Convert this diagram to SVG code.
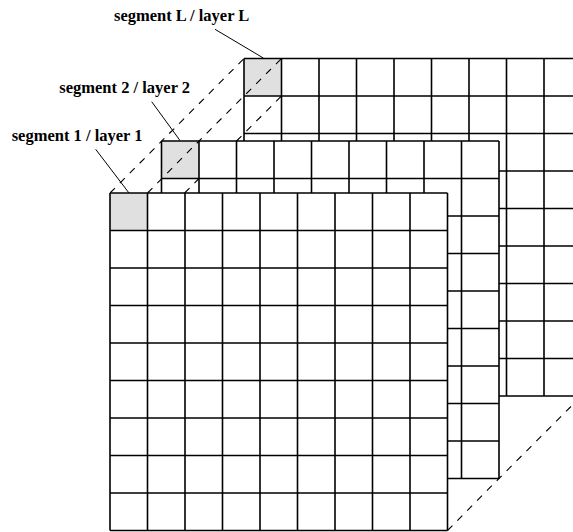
<svg xmlns="http://www.w3.org/2000/svg" xmlns:xlink="http://www.w3.org/1999/xlink" width="573" height="532" viewBox="0 0 573 532">
  <style>
    .grid-bg { fill: #ffffff; }
    .cell-hi { fill: #e0e0e0; }
    .grid-line { fill: none; stroke: #000000; stroke-width: 1.6; }
    .dash { fill: none; stroke: #000000; stroke-width: 1.1; stroke-dasharray: 7 7; }
    .leader { fill: none; stroke: #000000; stroke-width: 1; }
    .label { font-family: "Liberation Serif", "Times New Roman", serif; font-weight: bold; font-size: 16.5px; fill: #000000; }
  </style>
  <defs>
    <g id="grid9">
      <rect class="grid-bg" x="0" y="0" width="337.5" height="337.5"/>
      <rect class="cell-hi" x="0" y="0" width="37.5" height="37.5"/>
      <path class="grid-line" d="M0 0V337.5M37.5 0V337.5M75 0V337.5M112.5 0V337.5M150 0V337.5M187.5 0V337.5M225 0V337.5M262.5 0V337.5M300 0V337.5M337.5 0V337.5M0 0H337.5M0 37.5H337.5M0 75H337.5M0 112.5H337.5M0 150H337.5M0 187.5H337.5M0 225H337.5M0 262.5H337.5M0 300H337.5M0 337.5H337.5"/>
    </g>
  </defs>

  <g id="layer-L">
    <use xlink:href="#grid9" href="#grid9" transform="translate(244 58.5)"/>
  </g>
  <g id="layer-2">
    <use xlink:href="#grid9" href="#grid9" transform="translate(161.5 141)"/>
  </g>
  <g id="layer-1">
    <use xlink:href="#grid9" href="#grid9" transform="translate(110 193)"/>
  </g>

  <g id="connectors">
    <line class="dash" x1="110" y1="193" x2="244" y2="58.5"/>
    <polyline class="dash" points="147.5,193 199,141 281.5,58.5"/>
    <line class="dash" x1="184.6" y1="193" x2="199" y2="178.5"/>
    <line class="dash" x1="236.5" y1="141" x2="281.5" y2="96"/>
    <polyline class="dash" points="447.5,530.5 499,478.5 581.5,396"/>
    <line class="leader" x1="215" y1="29.3" x2="263.3" y2="58"/>
    <line class="leader" x1="151.7" y1="101.7" x2="180" y2="140.5"/>
    <line class="leader" x1="95.7" y1="149.3" x2="129" y2="193"/>
  </g>

  <g id="label-L">
    <text class="label" x="114" y="21">segment L / layer L</text>
  </g>
  <g id="label-2">
    <text class="label" x="59.3" y="92.7">segment 2 / layer 2</text>
  </g>
  <g id="label-1">
    <text class="label" x="11.7" y="141">segment 1 / layer 1</text>
  </g>
</svg>
